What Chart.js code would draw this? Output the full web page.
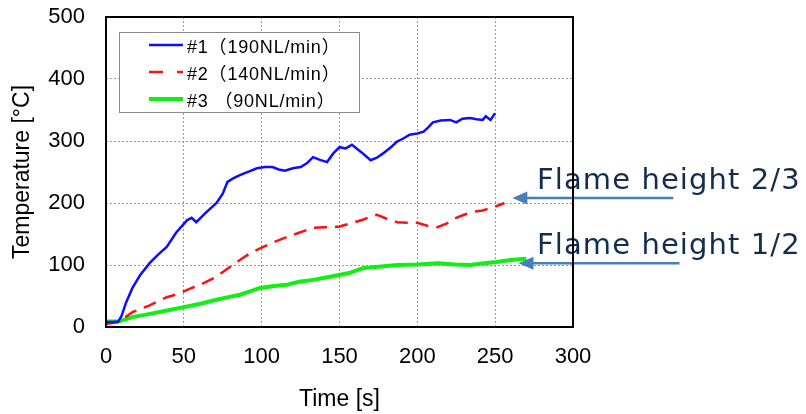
<!DOCTYPE html>
<html lang="pt-BR">
<head>
<meta charset="UTF-8">
<title>Temperatura x Tempo</title>
<script src="https://cdn.jsdelivr.net/npm/chart.js@4.4.1/dist/chart.umd.min.js"></script>
<style>
  html, body { margin: 0; padding: 0; background: #fff; }
  #grafico { display: block; }
</style>
</head>
<body>
<canvas id="grafico" width="806" height="414"></canvas>
<script>
// Ticks dos eixos
const ticksTempo = [0, 50, 100, 150, 200, 250, 300];
const ticksTemperatura = [0, 100, 200, 300, 400, 500];

// #1 (190NL/min)
const tempo1 = [0, 5, 8, 10, 13, 17, 22, 28, 34, 39, 45, 52, 55, 58, 64, 71, 75, 78, 82, 86, 92, 97, 102, 107, 111, 115, 120, 125, 129, 133, 137, 142, 146, 150, 154, 158, 164, 170, 174, 178, 183, 187, 191, 195, 200, 204, 207, 210, 215, 221, 225, 229, 234, 238, 242, 244, 247, 250];
const temp1 = [8, 8, 9, 18, 40, 63, 84, 103, 118, 129, 152, 172, 176, 169, 184, 200, 215, 234, 240, 245, 251, 256, 258, 258, 254, 252, 256, 258, 264, 274, 270, 266, 280, 290, 288, 294, 282, 269, 273, 280, 290, 299, 304, 310, 312, 315, 322, 330, 333, 334, 330, 336, 337, 335, 334, 340, 334, 345];

// #2 (140NL/min)
const tempo2 = [0, 8, 17, 28, 39, 47, 54, 62, 71, 78, 86, 92, 99, 107, 116, 124, 133, 140, 146, 150, 157, 165, 170, 174, 180, 187, 195, 200, 207, 213, 219, 225, 230, 236, 242, 247, 252, 256];
const temp2 = [5, 8, 24, 35, 48, 54, 62, 70, 81, 94, 108, 118, 127, 136, 145, 152, 160, 161, 161, 162, 167, 173, 178, 181, 175, 169, 168, 168, 163, 161, 167, 176, 181, 186, 188, 192, 196, 200];

// #3 (90NL/min)
const tempo3 = [0, 8, 17, 30, 40, 50, 60, 71, 80, 86, 92, 99, 108, 116, 124, 133, 144, 156, 165, 175, 187, 200, 213, 224, 234, 243, 251, 260, 270];
const temp3 = [9, 9, 16, 22, 27, 32, 37, 44, 49, 52, 57, 63, 66, 68, 73, 76, 81, 87, 95, 97, 100, 101, 103, 101, 100, 103, 105, 108, 110];

const rotulos = ['#1（190NL/min）', '#2（140NL/min）', '#3 （90NL/min）'];

// Setas de altura da chama: ponta em [tempo, temperatura]
const setasTexto = ['Flame height 2/3', 'Flame height 1/2'];
const setasPonta = [[261, 208], [265, 103]];

function pontos(xs, ys) {
    return xs.map((x, i) => ({ x: x, y: ys[i] }));
}

// Legenda com moldura dentro da área do gráfico
function desenharLegenda(chart) {
    const ctx = chart.ctx;
    const area = chart.chartArea;
    const x = area.left + 13;
    const y = area.top + 15;

    ctx.save();
    ctx.fillStyle = '#fff';
    ctx.fillRect(x, y, 240, 80);
    ctx.strokeStyle = '#8a8a8a';
    ctx.lineWidth = 1;
    ctx.strokeRect(x + 0.5, y + 0.5, 240, 80);

    chart.data.datasets.forEach((ds, i) => {
        const ly = y + 13 + i * 27;
        ctx.beginPath();
        ctx.strokeStyle = ds.borderColor;
        ctx.lineWidth = ds.borderWidth;
        ctx.setLineDash(ds.borderDash.length ? [14, 14] : []);
        ctx.moveTo(x + 30, ly);
        ctx.lineTo(x + 64, ly);
        ctx.stroke();
        ctx.setLineDash([]);

        ctx.fillStyle = '#000';
        ctx.font = '18px "Liberation Sans", "Noto Sans CJK JP", sans-serif';
        ctx.letterSpacing = '0.8px';
        ctx.textBaseline = 'middle';
        ctx.textAlign = 'left';
        ctx.fillText(ds.label, x + 68, ly + 3);
        ctx.letterSpacing = '0px';
    });
    ctx.restore();
}

function desenharSetas(chart) {
    const ctx = chart.ctx;
    const sx = chart.scales.x;
    const sy = chart.scales.y;

    ctx.save();
    setasPonta.forEach((p, i) => {
        const px = sx.getPixelForValue(p[0]);
        const py = sy.getPixelForValue(p[1]);

        ctx.strokeStyle = '#4a7ebb';
        ctx.fillStyle = '#4a7ebb';
        ctx.lineWidth = 2.5;
        ctx.beginPath();
        ctx.moveTo(px + 14, py);
        ctx.lineTo(px + 161, py);
        ctx.stroke();

        ctx.beginPath();
        ctx.moveTo(px, py);
        ctx.lineTo(px + 15, py - 6.5);
        ctx.lineTo(px + 15, py + 6.5);
        ctx.closePath();
        ctx.fill();

        ctx.fillStyle = '#132d4f';
        ctx.font = '29px "DejaVu Sans", sans-serif';
        ctx.letterSpacing = '1.1px';
        ctx.textBaseline = 'alphabetic';
        ctx.textAlign = 'left';
        ctx.fillText(setasTexto[i], chart.chartArea.right - 36, py - 9);
        ctx.letterSpacing = '0px';
    });
    ctx.restore();
}

function desenharMoldura(chart) {
    const ctx = chart.ctx;
    const a = chart.chartArea;
    ctx.save();
    ctx.strokeStyle = '#000';
    ctx.lineWidth = 2;
    ctx.strokeRect(a.left, a.top, a.right - a.left, a.bottom - a.top);
    ctx.restore();
}

const pluginExtras = {
    id: 'extras',
    afterDatasetsDraw(chart) {
        desenharLegenda(chart);
    },
    afterDraw(chart) {
        desenharSetas(chart);
        desenharMoldura(chart);
    }
};

const fonteTicks = { family: '"Liberation Sans", Arial, sans-serif', size: 22 };
const fonteTitulo = { family: '"Liberation Sans", Arial, sans-serif', size: 23 };

new Chart(document.getElementById('grafico').getContext('2d'), {
    type: 'line',
    data: {
        datasets: [
            {
                label: rotulos[0],
                data: pontos(tempo1, temp1),
                borderColor: '#0d0dff',
                borderWidth: 2.5,
                borderDash: [],
                pointRadius: 0,
                tension: 0
            },
            {
                label: rotulos[1],
                data: pontos(tempo2, temp2),
                borderColor: '#ff1010',
                borderWidth: 2.5,
                borderDash: [13, 8],
                pointRadius: 0,
                tension: 0
            },
            {
                label: rotulos[2],
                data: pontos(tempo3, temp3),
                borderColor: '#11ee11',
                borderWidth: 4,
                borderDash: [],
                pointRadius: 0,
                tension: 0
            }
        ]
    },
    options: {
        responsive: false,
        animation: false,
        layout: { autoPadding: false, padding: { left: 0, right: 233, top: 17, bottom: 0 } },
        plugins: {
            legend: { display: false },
            tooltip: { enabled: false }
        },
        scales: {
            x: {
                type: 'linear',
                min: ticksTempo[0],
                max: ticksTempo[ticksTempo.length - 1],
                afterBuildTicks: scale => { scale.ticks = ticksTempo.map(v => ({ value: v })); },
                afterFit: scale => { scale.height = 87; },
                grid: { color: '#9a9a9a', lineWidth: 1, drawTicks: false },
                border: { display: false, dash: [2, 2] },
                ticks: { color: '#000', font: fonteTicks, padding: 17, maxRotation: 0 },
                title: { display: true, text: 'Time [s]', color: '#000', font: fonteTitulo, padding: { top: 0, bottom: 1 } }
            },
            y: {
                min: ticksTemperatura[0],
                max: ticksTemperatura[ticksTemperatura.length - 1],
                afterBuildTicks: scale => { scale.ticks = ticksTemperatura.map(v => ({ value: v })); },
                afterFit: scale => {
                    // largura fixa e sem folga extra acima do "500"
                    scale.width = 106;
                    scale.paddingTop = 0;
                    scale.paddingBottom = 0;
                },
                grid: { color: '#9a9a9a', lineWidth: 1, drawTicks: false },
                border: { display: false, dash: [2, 2] },
                ticks: { color: '#000', font: fonteTicks, padding: 21 },
                title: { display: true, text: 'Temperature [°C]', color: '#000', font: fonteTitulo, padding: { top: 9, bottom: 0 } }
            }
        }
    },
    plugins: [pluginExtras]
});
</script>
</body>
</html>
